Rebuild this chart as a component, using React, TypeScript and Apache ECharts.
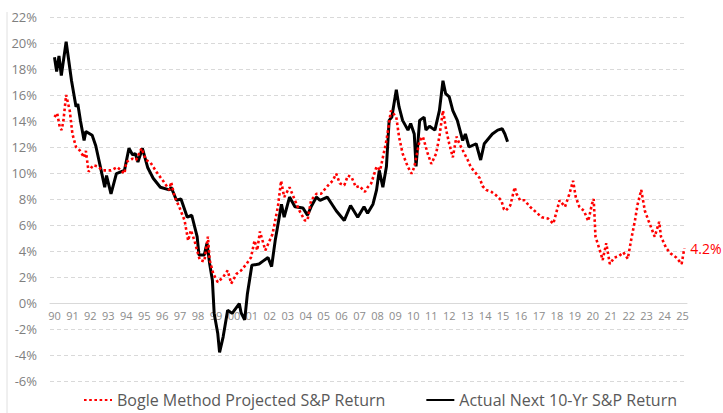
import React, { useEffect, useRef } from "react";
import * as echarts from "echarts";

const yearTicks = [
  1990, 1991, 1992, 1993, 1994, 1995, 1996, 1997, 1998, 1999, 2000, 2001,
  2002, 2003, 2004, 2005, 2006, 2007, 2008, 2009, 2010, 2011, 2012, 2013,
  2014, 2015, 2016, 2017, 2018, 2019, 2020, 2021, 2022, 2023, 2024, 2025,
];

const bogleYears = [
  1990.0, 1990.15, 1990.3, 1990.4, 1990.5, 1990.65, 1990.85, 1991.0, 1991.2, 1991.4,
  1991.65, 1991.75, 1991.9, 1992.15, 1992.4, 1992.7, 1993.15, 1993.5, 1993.9, 1994.0,
  1994.35, 1994.55, 1994.85, 1995.1, 1995.35, 1995.75, 1996.05, 1996.4, 1996.5, 1996.7,
  1996.95, 1997.25, 1997.45, 1997.6, 1997.8, 1998.1, 1998.35, 1998.55, 1998.65, 1998.85,
  1999.1, 1999.4, 1999.65, 1999.85, 2000.15, 2000.4, 2000.7, 2000.95, 2001.15, 2001.3,
  2001.45, 2001.75, 2002.15, 2002.45, 2002.63, 2002.8, 2003.1, 2003.4, 2003.65, 2003.95,
  2004.1, 2004.3, 2004.6, 2004.85, 2005.25, 2005.5, 2005.7, 2005.9, 2006.15, 2006.35,
  2006.55, 2006.8, 2007.0, 2007.3, 2007.45, 2007.65, 2007.95, 2008.15, 2008.3, 2008.5,
  2008.67, 2008.75, 2009.05, 2009.2, 2009.4, 2009.7, 2009.9, 2010.05, 2010.35, 2010.53,
  2010.8, 2011.0, 2011.27, 2011.45, 2011.65, 2011.83, 2012.0, 2012.2, 2012.4, 2012.57,
  2012.75, 2013.03, 2013.2, 2013.5, 2013.7, 2013.85, 2014.05, 2014.35, 2014.6, 2014.9,
  2015.05, 2015.15, 2015.4, 2015.65, 2015.75, 2015.95, 2016.2, 2016.5, 2016.75, 2017.15,
  2017.5, 2017.8, 2018.15, 2018.45, 2018.7, 2018.9, 2019.05, 2019.25, 2019.5, 2019.75,
  2019.95, 2020.05, 2020.15, 2020.45, 2020.55, 2020.75, 2020.95, 2021.2, 2021.45, 2021.7,
  2021.95, 2022.15, 2022.35, 2022.5, 2022.7, 2022.9, 2023.1, 2023.45, 2023.7, 2023.8,
  2024.1, 2024.35, 2024.65, 2024.95, 2025.1,
];
const bogleValues = [
  14.3, 14.6, 13.5, 13.3, 14.05, 16.0, 14.8, 13.0, 12.0, 11.75,
  11.2, 11.7, 10.1, 10.6, 10.5, 10.2, 10.2, 10.45, 9.95, 10.85,
  11.1, 11.0, 11.9, 11.0, 10.8, 9.95, 9.4, 8.7, 9.3, 8.15,
  7.4, 6.35, 4.8, 5.6, 4.8, 3.3, 3.2, 5.1, 3.3, 2.25,
  1.6, 2.0, 2.5, 1.5, 2.25, 2.5, 3.0, 3.5, 4.8, 4.05,
  5.5, 4.05, 5.3, 7.4, 9.4, 8.15, 8.9, 7.9, 7.1, 6.35,
  6.35, 7.9, 8.4, 8.4, 9.05, 9.4, 9.95, 9.2, 9.05, 9.8,
  9.7, 8.9, 9.0, 8.55, 8.9, 9.2, 10.5, 10.2, 11.2, 12.5,
  14.05, 14.8, 14.3, 12.8, 11.5, 10.45, 9.95, 10.45, 12.5, 12.8,
  11.5, 10.7, 11.5, 12.8, 14.8, 13.3, 12.25, 11.2, 12.8, 12.25,
  11.75, 11.0, 10.45, 9.95, 9.6, 9.0, 8.7, 8.55, 8.3, 7.9,
  7.2, 7.1, 7.5, 8.9, 8.4, 7.9, 7.9, 7.4, 7.1, 6.6,
  6.5, 6.1, 7.9, 7.4, 8.4, 9.4, 8.15, 7.4, 7.1, 6.3,
  7.6, 8.0, 5.1, 3.8, 3.3, 4.6, 3.0, 3.5, 3.6, 3.9,
  3.4, 4.95, 6.35, 7.6, 8.7, 7.1, 6.35, 5.1, 6.25, 5.1,
  4.2, 3.8, 3.5, 3.0, 4.2,
];

const actualYears = [
  1990.0, 1990.12, 1990.25, 1990.38, 1990.65, 1990.95, 1991.2, 1991.3, 1991.45, 1991.65,
  1991.75, 1992.1, 1992.3, 1992.6, 1992.8, 1992.9, 1993.15, 1993.45, 1993.9, 1994.15,
  1994.35, 1994.5, 1994.65, 1994.9, 1995.2, 1995.5, 1995.9, 1996.4, 1996.5, 1996.8,
  1997.05, 1997.4, 1997.65, 1997.95, 1998.05, 1998.35, 1998.5, 1998.65, 1998.8, 1998.9,
  1999.1, 1999.2, 1999.4, 1999.65, 1999.9, 2000.3, 2000.4, 2000.6, 2000.75, 2001.0,
  2001.4, 2001.6, 2001.9, 2002.1, 2002.3, 2002.5, 2002.65, 2002.8, 2003.1, 2003.4,
  2003.85, 2004.1, 2004.3, 2004.6, 2004.8, 2005.2, 2005.7, 2006.15, 2006.5, 2006.9,
  2007.25, 2007.45, 2007.75, 2007.95, 2008.1, 2008.3, 2008.5, 2008.65, 2008.8, 2009.05,
  2009.2, 2009.4, 2009.7, 2009.85, 2010.05, 2010.15, 2010.35, 2010.6, 2010.7, 2010.9,
  2011.2, 2011.45, 2011.65, 2011.8, 2012.0, 2012.2, 2012.45, 2012.75, 2012.9, 2013.1,
  2013.5, 2013.75, 2013.95, 2014.4, 2014.7, 2014.95, 2015.1, 2015.25,
];
const actualValues = [
  18.9, 17.8, 19.0, 17.5, 20.1, 17.1, 15.1, 15.3, 14.0, 12.5,
  13.2, 12.9, 12.1, 10.2, 8.9, 9.8, 8.4, 9.95, 10.2, 11.9,
  11.4, 11.5, 10.85, 11.9, 10.4, 9.6, 8.9, 8.7, 8.9, 7.9,
  8.0, 6.6, 6.75, 5.1, 3.7, 3.7, 4.6, 3.0, 1.75, -0.8,
  -2.35, -3.8, -2.6, -0.55, -0.8, -0.05, -0.75, -1.3, 0.7, 2.9,
  3.0, 3.2, 3.5, 2.8, 4.8, 6.4, 7.6, 6.6, 8.15, 7.4,
  7.3, 6.75, 7.4, 8.15, 7.9, 8.15, 7.1, 6.35, 7.5, 6.6,
  7.4, 6.9, 7.6, 8.7, 10.2, 8.9, 10.5, 14.05, 14.3, 16.4,
  15.1, 14.05, 13.3, 13.8, 13.0, 10.5, 14.05, 14.3, 13.3, 13.6,
  13.3, 14.8, 17.1, 16.1, 15.85, 14.8, 14.05, 12.5, 13.0, 12.0,
  12.25, 11.0, 12.25, 13.0, 13.3, 13.4, 13.0, 12.4,
];

const seriesNames = ["Bogle Method Projected S&P Return", "Actual Next 10-Yr S&P Return"];

function zip(xs: number[], ys: number[]) {
  return xs.map((x, i) => [x, ys[i]]);
}

export default function App() {
  const ref = useRef<HTMLDivElement>(null);
  useEffect(() => {
    if (!ref.current) return;
    const chart = echarts.init(ref.current, undefined, { renderer: "svg" });
    const font = "'Open Sans', 'Noto Sans', sans-serif";
    chart.setOption({
      animation: false,
      backgroundColor: "#ffffff",
      textStyle: { fontFamily: font },
      grid: { left: 50, right: 36, top: 17, bottom: 32, containLabel: false },
      xAxis: {
        type: "value",
        min: 1989.75,
        max: 2025.25,
        position: "bottom",
        offset: -78,
        axisLine: { show: true, onZero: false, lineStyle: { color: "#d9d9d9", width: 1 } },
        axisTick: { show: false },
        splitLine: { show: false },
        axisLabel: {
          customValues: yearTicks,
          formatter: (v: number) => String(Math.round(v) % 100).padStart(2, "0"),
          fontSize: 11,
          color: "#8c8c8c",
          margin: 7,
          fontFamily: font,
        },
      },
      yAxis: {
        type: "value",
        min: -6,
        max: 22,
        interval: 2,
        axisLine: { show: false },
        axisTick: { show: false },
        axisLabel: { formatter: "{value}%", fontSize: 13, color: "#7f7f7f", margin: 13, fontFamily: font },
        splitLine: { show: true, lineStyle: { color: "#d9d9d9", type: [4, 3], width: 1 } },
      },
      legend: {
        left: 83,
        top: 392,
        padding: 0,
        itemWidth: 28,
        itemHeight: 14,
        itemGap: 40,
        itemStyle: { color: "rgba(0,0,0,0)", borderColor: "rgba(0,0,0,0)", borderWidth: 0 },
        textStyle: { fontSize: 16, color: "#595959", fontFamily: font },
        data: seriesNames,
      },
      graphic: [
        {
          type: "line",
          shape: { x1: 7, y1: 12, x2: 7, y2: 413 },
          style: { stroke: "#e0e0e0", lineWidth: 1 },
          silent: true,
        },
      ],
      series: [
        {
          name: seriesNames[0],
          type: "line",
          data: zip(bogleYears, bogleValues),
          symbol: "none",
          z: 3,
          lineStyle: { color: "#ff0000", width: 2.6, type: [2.6, 2.6] },
          itemStyle: { color: "#ff0000" },
          endLabel: {
            show: true,
            formatter: (p: any) => `${p.value[1].toFixed(1)}%`,
            color: "#ff0000",
            fontSize: 14,
            distance: 6,
            fontFamily: font,
          },
        },
        {
          name: seriesNames[1],
          type: "line",
          data: zip(actualYears, actualValues),
          symbol: "none",
          z: 2,
          lineStyle: { color: "#000000", width: 3 },
          itemStyle: { color: "#000000" },
        },
      ],
    });
    return () => chart.dispose();
  }, []);
  return (
    <div
      ref={ref}
      style={{ position: "fixed", left: 0, top: 0, width: 723, height: 413 }}
    />
  );
}
